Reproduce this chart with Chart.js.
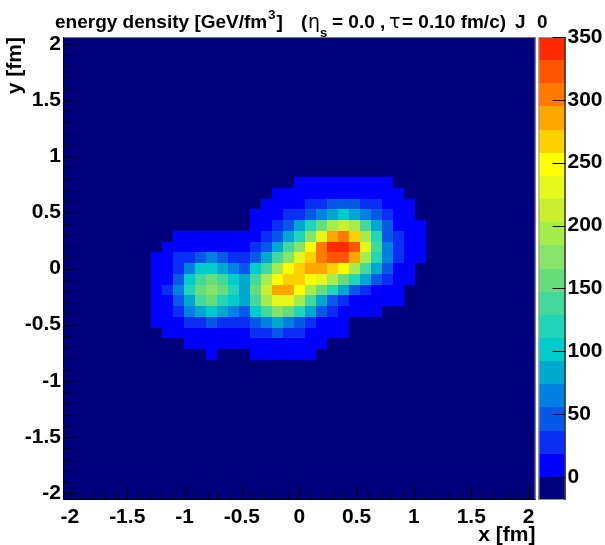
<!DOCTYPE html>
<html>
<head>
<meta charset="utf-8">
<title>energy density</title>
<script src="https://cdn.jsdelivr.net/npm/chart.js@4.4.1/dist/chart.umd.min.js"></script>
<style>
  html, body { margin: 0; padding: 0; background: #fff; }
  canvas { display: block; }
</style>
</head>
<body>
<canvas id="edens" width="605" height="545"></canvas>
<script>
// transverse grid: 43 x 43 cells over [-2.06, 2.06] fm, cell i is centred at i * binW
const gridMin = -2.06;
const gridMax = 2.06;
const binW = (gridMax - gridMin) / 43;

// cell indices of the stored block, everything outside it is empty
const colIdx = [-13, -12, -11, -10, -9, -8, -7, -6, -5, -4, -3, -2, -1, 0, 1, 2, 3, 4, 5, 6, 7, 8, 9, 10, 11];
const rowIdx = [8, 7, 6, 5, 4, 3, 2, 1, 0, -1, -2, -3, -4, -5, -6, -7, -8];

// energy density [GeV/fm^3], one row per rowIdx entry, one column per colIdx entry
const energyDensity = [
  [0, 0, 0, 0, 0, 0, 0, 0, 0, 0, 0, 0, 0, 9, 9, 9, 9, 9, 9, 9, 9, 9, 0, 0, 0],
  [0, 0, 0, 0, 0, 0, 0, 0, 0, 0, 0, 9, 9, 9, 9, 9, 9, 9, 9, 9, 9, 9, 9, 0, 0],
  [0, 0, 0, 0, 0, 0, 0, 0, 0, 0, 9, 9, 9, 9, 28, 28, 46, 46, 46, 28, 28, 9, 9, 9, 0],
  [0, 0, 0, 0, 0, 0, 0, 0, 0, 9, 9, 9, 28, 28, 46, 64, 83, 101, 83, 64, 46, 28, 9, 9, 0],
  [0, 0, 0, 0, 0, 0, 0, 0, 0, 9, 9, 28, 46, 83, 120, 157, 193, 212, 193, 138, 83, 46, 9, 9, 9],
  [0, 0, 9, 9, 9, 9, 9, 9, 9, 9, 28, 46, 83, 120, 175, 230, 286, 304, 267, 193, 120, 46, 28, 9, 9],
  [0, 9, 9, 9, 9, 9, 9, 9, 9, 28, 46, 83, 138, 175, 249, 304, 341, 341, 322, 230, 138, 64, 28, 9, 9],
  [9, 9, 28, 28, 46, 64, 46, 28, 28, 46, 83, 138, 175, 230, 267, 304, 322, 322, 286, 193, 120, 64, 28, 9, 9],
  [9, 9, 28, 64, 101, 101, 83, 64, 46, 101, 138, 193, 249, 267, 286, 286, 267, 249, 193, 138, 83, 46, 9, 9, 0],
  [9, 9, 46, 101, 138, 157, 138, 101, 83, 138, 193, 249, 267, 267, 249, 230, 193, 157, 120, 83, 46, 28, 9, 9, 0],
  [9, 28, 64, 120, 157, 175, 157, 120, 83, 157, 212, 286, 286, 249, 193, 157, 120, 83, 46, 28, 9, 9, 9, 0, 0],
  [9, 9, 46, 83, 138, 157, 120, 101, 83, 138, 193, 230, 230, 193, 138, 83, 46, 28, 9, 9, 9, 9, 9, 0, 0],
  [9, 9, 28, 64, 83, 101, 83, 64, 46, 101, 138, 175, 157, 120, 83, 46, 28, 9, 9, 9, 9, 0, 0, 0, 0],
  [9, 9, 9, 28, 28, 46, 28, 28, 28, 46, 64, 83, 64, 46, 28, 9, 9, 9, 0, 0, 0, 0, 0, 0, 0],
  [0, 9, 9, 9, 9, 9, 9, 9, 9, 28, 28, 46, 28, 28, 9, 9, 9, 9, 0, 0, 0, 0, 0, 0, 0],
  [0, 0, 0, 9, 9, 9, 9, 9, 9, 9, 9, 9, 9, 9, 9, 9, 0, 0, 0, 0, 0, 0, 0, 0, 0],
  [0, 0, 0, 0, 0, 9, 0, 0, 0, 9, 9, 9, 9, 9, 9, 0, 0, 0, 0, 0, 0, 0, 0, 0, 0]
];

const xTicks = [-2, -1.5, -1, -0.5, 0, 0.5, 1, 1.5, 2];
const yTicks = [-2, -1.5, -1, -0.5, 0, 0.5, 1, 1.5, 2];
const zTicks = [0, 50, 100, 150, 200, 250, 300, 350];

// 20 colour levels, top level ends at zMax, one level below zero
const zMax = 350;
const nLevels = 20;
const zMin = -zMax / (nLevels - 1);
const palette = [
  '#00007c', '#0000ff', '#0a2ef4', '#0858e8', '#0080e0', '#00a8d0', '#00cccc',
  '#22d4b8', '#44d89c', '#66dd7a', '#86e468', '#a6ec4c', '#c8f030', '#e4f81c',
  '#ffff00', '#ffd000', '#ffa500', '#ff7800', '#ff5500', '#ff2a00'
];

// flat list of cells for the dataset
const cells = [];
rowIdx.forEach((j, r) => {
  colIdx.forEach((i, c) => {
    cells.push({ x: i * binW, y: j * binW, v: energyDensity[r][c] });
  });
});

const levelW = (zMax - zMin) / nLevels;
function levelColor(v) {
  const k = Math.min(nLevels - 1, Math.max(0, Math.floor((v - zMin) / levelW)));
  return palette[k];
}

Chart.defaults.font.family = '"Liberation Sans", Arial, sans-serif';
Chart.defaults.font.weight = 'bold';
Chart.defaults.font.size = 21;
Chart.defaults.color = '#000';

// draws the cells, the tick marks, the colour bar and the title
const colz = {
  id: 'colz',
  beforeDatasetsDraw(chart) {
    const { ctx, chartArea: a, scales: { x, y } } = chart;
    ctx.save();
    ctx.fillStyle = palette[0];
    ctx.fillRect(a.left, a.top, a.right - a.left, a.bottom - a.top);
    chart.data.datasets[0].data.forEach(c => {
      if (c.v <= 0) return; // empty cell
      const x0 = Math.round(x.getPixelForValue(c.x - binW / 2));
      const x1 = Math.round(x.getPixelForValue(c.x + binW / 2));
      const y0 = Math.round(y.getPixelForValue(c.y + binW / 2));
      const y1 = Math.round(y.getPixelForValue(c.y - binW / 2));
      ctx.fillStyle = levelColor(c.v);
      ctx.fillRect(x0, y0, x1 - x0, y1 - y0);
    });
    ctx.restore();
  },
  afterDraw(chart) {
    const { ctx, chartArea: a, scales: { x, y, z } } = chart;
    ctx.save();

    // frame
    ctx.lineWidth = 1;
    ctx.strokeStyle = '#777';
    ctx.beginPath();
    ctx.moveTo(a.left, a.top + 0.5);
    ctx.lineTo(a.right - 0.5, a.top + 0.5);
    ctx.lineTo(a.right - 0.5, a.bottom);
    ctx.stroke();
    ctx.strokeStyle = '#000';
    ctx.beginPath();
    ctx.moveTo(a.left + 0.5, a.top);
    ctx.lineTo(a.left + 0.5, a.bottom - 0.5);
    ctx.lineTo(a.right, a.bottom - 0.5);
    ctx.stroke();

    // tick marks point into the frame, minor ones every 0.1 fm
    const major = 14, minor = 7;
    ctx.beginPath();
    for (let k = -20; k <= 20; k++) {
      const v = k / 10;
      const len = xTicks.includes(v) ? major : minor;
      const px = Math.round(x.getPixelForValue(v)) + 0.5;
      ctx.moveTo(px, a.bottom);
      ctx.lineTo(px, a.bottom - len);
      const lenY = yTicks.includes(v) ? major : minor;
      const py = Math.round(y.getPixelForValue(v)) + 0.5;
      ctx.moveTo(a.left, py);
      ctx.lineTo(a.left + lenY, py);
    }
    ctx.stroke();

    // colour bar
    const barL = z.left + 3;
    const barR = z.left + 30;
    for (let k = 0; k < nLevels; k++) {
      const top = Math.round(z.getPixelForValue(zMin + (k + 1) * levelW));
      const bot = Math.round(z.getPixelForValue(zMin + k * levelW));
      ctx.fillStyle = palette[k];
      ctx.fillRect(barL, top, barR - barL, bot - top);
    }
    ctx.strokeStyle = '#999';
    ctx.strokeRect(barL + 0.5, z.top + 0.5, barR - barL - 1, z.bottom - z.top - 1);
    ctx.strokeStyle = '#000';
    ctx.beginPath();
    ctx.moveTo(barR - 0.5, z.top);
    ctx.lineTo(barR - 0.5, z.bottom);
    zTicks.forEach(v => {
      const py = Math.round(z.getPixelForValue(v)) + 0.5;
      ctx.moveTo(barR - 13, py);
      ctx.lineTo(barR, py);
    });
    ctx.stroke();

    // title with super- and subscripts
    const big = 'bold 19px "Liberation Sans"';
    const small = 'bold 13px "Liberation Sans"';
    const greek = '19px "DejaVu Sans"';
    ctx.fillStyle = '#000';
    ctx.textAlign = 'left';
    ctx.textBaseline = 'alphabetic';
    const base = 28;
    ctx.font = big;
    const head = 'energy density [GeV/fm';
    ctx.fillText(head, 55, base);
    let px = 55 + ctx.measureText(head).width + 1;
    ctx.font = small;
    ctx.fillText('3', px, 19);
    px += ctx.measureText('3').width + 1;
    ctx.font = big;
    ctx.fillText(']', px, base);
    ctx.fillText('(', 301, base);
    ctx.font = greek;
    ctx.fillText('\u03b7', 308, base);
    ctx.font = small;
    ctx.fillText('s', 320, 37);
    ctx.font = big;
    ctx.fillText('= 0.0', 332, base);
    ctx.fillText(',', 380, base);
    ctx.font = greek;
    ctx.fillText('\u03c4', 389, base);
    ctx.font = big;
    ctx.fillText('= 0.10 fm/c)', 402, base);
    ctx.fillText('J', 515, base);
    ctx.fillText('0', 537, base);

    ctx.restore();
  }
};

// keep the frame fixed: no extra room for half labels at the axis ends
function noEdgePadding(s) {
  s.paddingTop = 0;
  s.paddingBottom = 0;
  s.paddingLeft = 0;
  s.paddingRight = 0;
}

new Chart(document.getElementById('edens'), {
  type: 'scatter',
  data: {
    datasets: [{ data: cells, pointRadius: 0, pointHoverRadius: 0 }]
  },
  options: {
    responsive: false,
    animation: false,
    events: [],
    layout: { padding: { top: 37, left: 0, right: 0, bottom: 0 } },
    plugins: { legend: { display: false }, tooltip: { enabled: false } },
    scales: {
      x: {
        type: 'linear',
        position: 'bottom',
        min: gridMin,
        max: gridMax,
        grid: { display: false, drawTicks: false },
        border: { display: false },
        ticks: { autoSkip: false, maxRotation: 0, padding: 5, callback: v => String(v) },
        afterBuildTicks: s => { s.ticks = xTicks.map(v => ({ value: v })); },
        afterFit: s => { s.height = 45; noEdgePadding(s); },
        title: { display: true, text: 'x [fm]', align: 'end', padding: { top: 0, bottom: -3 } }
      },
      y: {
        type: 'linear',
        position: 'left',
        min: gridMin,
        max: gridMax,
        grid: { display: false, drawTicks: false },
        border: { display: false },
        ticks: { autoSkip: false, padding: 2, callback: v => String(v) },
        afterBuildTicks: s => { s.ticks = yTicks.map(v => ({ value: v })); },
        afterFit: s => { s.width = 63; noEdgePadding(s); },
        title: { display: true, text: 'y [fm]', align: 'end', padding: { top: 3, bottom: 0 } }
      },
      z: {
        type: 'linear',
        position: 'right',
        min: zMin,
        max: zMax,
        grid: { display: false, drawTicks: false },
        border: { display: false },
        ticks: { autoSkip: false, padding: 32, callback: v => String(v) },
        afterBuildTicks: s => { s.ticks = zTicks.map(v => ({ value: v })); },
        afterFit: s => { s.width = 69.5; noEdgePadding(s); }
      }
    }
  },
  plugins: [colz]
});
</script>
</body>
</html>
